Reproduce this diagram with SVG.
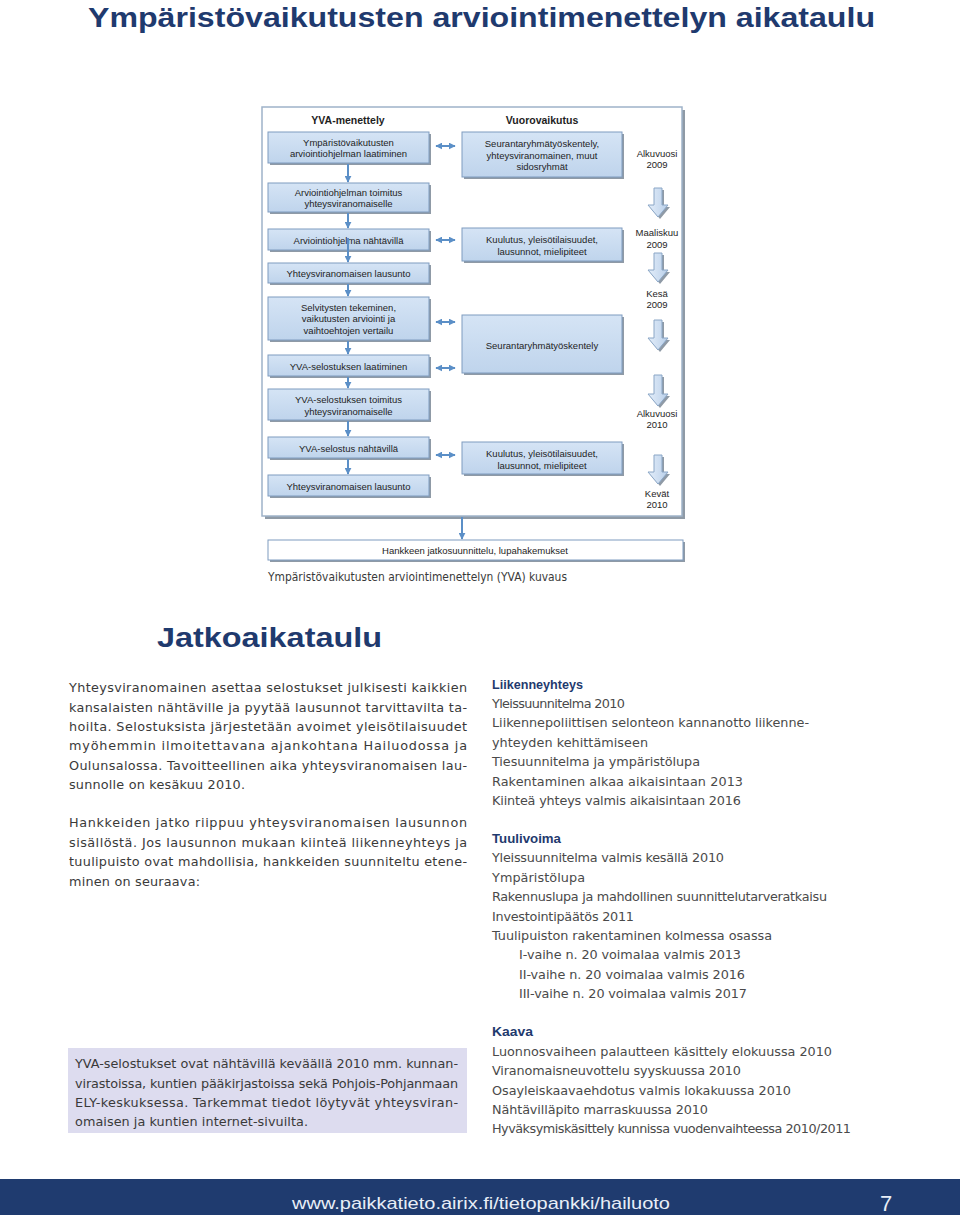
<svg xmlns="http://www.w3.org/2000/svg" width="960" height="1215" viewBox="0 0 960 1215">
<defs>
<linearGradient id="g" x1="0" y1="0" x2="0" y2="1"><stop offset="0" stop-color="#d5e4f5"/><stop offset="1" stop-color="#bfd4ec"/></linearGradient>
<linearGradient id="ga" x1="0" y1="0" x2="1" y2="0"><stop offset="0" stop-color="#e4eefa"/><stop offset="1" stop-color="#b9cfe9"/></linearGradient>
<marker id="ah" viewBox="0 0 10 10" refX="9" refY="5" markerWidth="7" markerHeight="7" markerUnits="userSpaceOnUse" orient="auto-start-reverse"><path d="M0,0 L10,5 L0,10 z" fill="#5b8fc7"/></marker>
</defs>
<style>
.t{font-family:"Liberation Sans",Arial,sans-serif;font-size:9.5px;fill:#1e1e1e;text-anchor:middle}
.h{font-weight:bold;font-size:10.5px}
.box{fill:url(#g);stroke:#7f9cc0;stroke-width:1}
.wbox{fill:#ffffff;stroke:#7f9cc0;stroke-width:1}
.sh{fill:#8f9aa6}
.conn{stroke:#5b8fc7;stroke-width:2;fill:none}
.barr{fill:url(#ga);stroke:#8aa6c6;stroke-width:1}
.body{font-family:"DejaVu Sans",Verdana,sans-serif;font-size:12.8px;fill:#3a3a3a}
.rb{font-family:"DejaVu Sans",Verdana,sans-serif;font-size:12.8px;fill:#4a4a4a}
.hd{font-family:"Liberation Sans",Arial,sans-serif;font-weight:bold;font-size:12.8px;fill:#1f3a6e}
.title{font-family:"Liberation Sans",Arial,sans-serif;font-weight:bold;fill:#1f3a6e}
</style>
<rect width="960" height="1215" fill="#ffffff"/>

<text class="title" x="88" y="27" font-size="27" textLength="787" lengthAdjust="spacingAndGlyphs">Ympäristövaikutusten arviointimenettelyn aikataulu</text>

<g id="frame">
<rect x="265" y="110" width="420" height="409" class="sh"/>
<rect x="262" y="107" width="420" height="409" fill="#ffffff" stroke="#9fb3c9" stroke-width="1.5"/>
<text class="t h" x="348" y="124">YVA-menettely</text>
<text class="t h" x="542" y="124">Vuorovaikutus</text>
</g>

<g id="b1"><rect x="270" y="134" width="161" height="31" class="sh"/><rect x="268" y="132" width="161" height="31" class="box"/><text class="t" x="348.5" y="146">Ympäristövaikutusten</text><text class="t" x="348.5" y="157">arviointiohjelman laatiminen</text></g>
<g id="b2"><rect x="270" y="185" width="161" height="29" class="sh"/><rect x="268" y="183" width="161" height="29" class="box"/><text class="t" x="348.5" y="195.5">Arviointiohjelman toimitus</text><text class="t" x="348.5" y="206.5">yhteysviranomaiselle</text></g>
<g id="b3"><rect x="270" y="231" width="161" height="21" class="sh"/><rect x="268" y="229" width="161" height="21" class="box"/><text class="t" x="348.5" y="243.5">Arviointiohjelma nähtävillä</text></g>
<g id="b4"><rect x="270" y="265" width="161" height="20" class="sh"/><rect x="268" y="263" width="161" height="20" class="box"/><text class="t" x="348.5" y="276.5">Yhteysviranomaisen lausunto</text></g>
<g id="b5"><rect x="270" y="299" width="161" height="43" class="sh"/><rect x="268" y="297" width="161" height="43" class="box"/><text class="t" x="348.5" y="310.5">Selvitysten tekeminen,</text><text class="t" x="348.5" y="322">vaikutusten arviointi ja</text><text class="t" x="348.5" y="333.5">vaihtoehtojen vertailu</text></g>
<g id="b6"><rect x="270" y="357" width="161" height="21" class="sh"/><rect x="268" y="355" width="161" height="21" class="box"/><text class="t" x="348.5" y="369.5">YVA-selostuksen laatiminen</text></g>
<g id="b7"><rect x="270" y="391" width="161" height="31" class="sh"/><rect x="268" y="389" width="161" height="31" class="box"/><text class="t" x="348.5" y="402.5">YVA-selostuksen toimitus</text><text class="t" x="348.5" y="414.5">yhteysviranomaiselle</text></g>
<g id="b8"><rect x="270" y="439" width="161" height="21" class="sh"/><rect x="268" y="437" width="161" height="21" class="box"/><text class="t" x="348.5" y="451.5">YVA-selostus nähtävillä</text></g>
<g id="b9"><rect x="270" y="477" width="161" height="21" class="sh"/><rect x="268" y="475" width="161" height="21" class="box"/><text class="t" x="348.5" y="489.5">Yhteysviranomaisen lausunto</text></g>

<g id="r1"><rect x="464" y="134" width="160" height="45" class="sh"/><rect x="462" y="132" width="160" height="45" class="box"/><text class="t" x="542" y="147">Seurantaryhmätyöskentely,</text><text class="t" x="542" y="158.5">yhteysviranomainen, muut</text><text class="t" x="542" y="170">sidosryhmät</text></g>
<g id="r2"><rect x="464" y="230" width="160" height="33" class="sh"/><rect x="462" y="228" width="160" height="33" class="box"/><text class="t" x="542" y="242.5">Kuulutus, yleisötilaisuudet,</text><text class="t" x="542" y="254.5">lausunnot, mielipiteet</text></g>
<g id="r3"><rect x="464" y="317" width="160" height="58" class="sh"/><rect x="462" y="315" width="160" height="58" class="box"/><text class="t" x="542" y="348.5">Seurantaryhmätyöskentely</text></g>
<g id="r4"><rect x="464" y="444" width="160" height="32" class="sh"/><rect x="462" y="442" width="160" height="32" class="box"/><text class="t" x="542" y="456.5">Kuulutus, yleisötilaisuudet,</text><text class="t" x="542" y="468.5">lausunnot, mielipiteet</text></g>

<g id="times">
<text class="t" x="657" y="156.5">Alkuvuosi</text><text class="t" x="657" y="167.5">2009</text>
<text class="t" x="657" y="235.5">Maaliskuu</text><text class="t" x="657" y="247.5">2009</text>
<text class="t" x="657" y="296.5">Kesä</text><text class="t" x="657" y="307.5">2009</text>
<text class="t" x="657" y="416.5">Alkuvuosi</text><text class="t" x="657" y="427.5">2010</text>
<text class="t" x="657" y="496.5">Kevät</text><text class="t" x="657" y="507.5">2010</text>
</g>

<g id="timearrows">
<path class="sh" d="M656,190 L664,190 L664,207 L670,207 L660,219 L650,207 L656,207 Z"/>
<path class="barr" d="M654,188 L662,188 L662,205 L668,205 L658,217 L648,205 L654,205 Z"/>
<path class="sh" d="M656,255 L664,255 L664,272 L670,272 L660,284 L650,272 L656,272 Z"/>
<path class="barr" d="M654,253 L662,253 L662,270 L668,270 L658,282 L648,270 L654,270 Z"/>
<path class="sh" d="M656,322 L664,322 L664,340 L670,340 L660,352 L650,340 L656,340 Z"/>
<path class="barr" d="M654,320 L662,320 L662,338 L668,338 L658,350 L648,338 L654,338 Z"/>
<path class="sh" d="M656,377 L664,377 L664,396 L670,396 L660,408 L650,396 L656,396 Z"/>
<path class="barr" d="M654,375 L662,375 L662,394 L668,394 L658,406 L648,394 L654,394 Z"/>
<path class="sh" d="M656,457 L664,457 L664,474 L670,474 L660,486 L650,474 L656,474 Z"/>
<path class="barr" d="M654,455 L662,455 L662,472 L668,472 L658,484 L648,472 L654,472 Z"/>
</g>

<g id="final"><rect x="270" y="542" width="415" height="20" class="sh"/><rect x="268" y="540" width="415" height="20" class="wbox"/><text class="t" x="475" y="553.5">Hankkeen jatkosuunnittelu, lupahakemukset</text></g>

<g id="connectors">
<line class="conn" x1="348" y1="164" x2="348" y2="182" marker-end="url(#ah)"/>
<line class="conn" x1="348" y1="213" x2="348" y2="228" marker-end="url(#ah)"/>
<line class="conn" x1="348" y1="238" x2="348" y2="262" marker-end="url(#ah)"/>
<line class="conn" x1="348" y1="284" x2="348" y2="296" marker-end="url(#ah)"/>
<line class="conn" x1="348" y1="341" x2="348" y2="354" marker-end="url(#ah)"/>
<line class="conn" x1="348" y1="377" x2="348" y2="388" marker-end="url(#ah)"/>
<line class="conn" x1="348" y1="421" x2="348" y2="436" marker-end="url(#ah)"/>
<line class="conn" x1="348" y1="459" x2="348" y2="474" marker-end="url(#ah)"/>
<line class="conn" x1="436" y1="146" x2="455" y2="146" marker-start="url(#ah)" marker-end="url(#ah)"/>
<line class="conn" x1="436" y1="240" x2="455" y2="240" marker-start="url(#ah)" marker-end="url(#ah)"/>
<line class="conn" x1="436" y1="322" x2="455" y2="322" marker-start="url(#ah)" marker-end="url(#ah)"/>
<line class="conn" x1="436" y1="368" x2="455" y2="368" marker-start="url(#ah)" marker-end="url(#ah)"/>
<line class="conn" x1="436" y1="455" x2="455" y2="455" marker-start="url(#ah)" marker-end="url(#ah)"/>
<line class="conn" x1="462" y1="517" x2="462" y2="539" marker-end="url(#ah)"/>
</g>

<text class="body" x="268" y="581" font-size="12" textLength="299" lengthAdjust="spacingAndGlyphs">Ympäristövaikutusten arviointimenettelyn (YVA) kuvaus</text>

<text class="title" x="157" y="647" font-size="28" textLength="225" lengthAdjust="spacingAndGlyphs" font-family="DejaVu Sans">Jatkoaikataulu</text>

<g id="leftpara">
<text class="body" x="69" y="692" textLength="398" lengthAdjust="spacing">Yhteysviranomainen asettaa selostukset julkisesti kaikkien</text>
<text class="body" x="69" y="711.5" textLength="398" lengthAdjust="spacing">kansalaisten nähtäville ja pyytää lausunnot tarvittavilta ta-</text>
<text class="body" x="69" y="731" textLength="398" lengthAdjust="spacing">hoilta. Selostuksista järjestetään avoimet yleisötilaisuudet</text>
<text class="body" x="69" y="750" textLength="398" lengthAdjust="spacing">myöhemmin ilmoitettavana ajankohtana Hailuodossa ja</text>
<text class="body" x="69" y="769.5" textLength="398" lengthAdjust="spacing">Oulunsalossa. Tavoitteellinen aika yhteysviranomaisen lau-</text>
<text class="body" x="69" y="789" textLength="176" lengthAdjust="spacing">sunnolle on kesäkuu 2010.</text>
<text class="body" x="69" y="827" textLength="398" lengthAdjust="spacing">Hankkeiden jatko riippuu yhteysviranomaisen lausunnon</text>
<text class="body" x="69" y="846.5" textLength="398" lengthAdjust="spacing">sisällöstä. Jos lausunnon mukaan kiinteä liikenneyhteys ja</text>
<text class="body" x="69" y="866" textLength="398" lengthAdjust="spacing">tuulipuisto ovat mahdollisia, hankkeiden suunniteltu etene-</text>
<text class="body" x="69" y="885.5" textLength="131" lengthAdjust="spacing">minen on seuraava:</text>
</g>

<g id="notebox">
<rect x="68" y="1048" width="399" height="85" fill="#dddcef"/>
<text class="body" x="75" y="1068" textLength="383" lengthAdjust="spacing">YVA-selostukset ovat nähtävillä keväällä 2010 mm. kunnan-</text>
<text class="body" x="75" y="1088" textLength="383" lengthAdjust="spacing">virastoissa, kuntien pääkirjastoissa sekä Pohjois-Pohjanmaan</text>
<text class="body" x="75" y="1107" textLength="383" lengthAdjust="spacing">ELY-keskuksessa. Tarkemmat tiedot löytyvät yhteysviran-</text>
<text class="body" x="75" y="1126" textLength="233" lengthAdjust="spacing">omaisen ja kuntien internet-sivuilta.</text>
</g>

<g id="rightcol">
<text class="hd" x="492" y="688.5" textLength="91" lengthAdjust="spacingAndGlyphs">Liikenneyhteys</text>
<text class="rb" x="492" y="707.9" textLength="133" lengthAdjust="spacing">Yleissuunnitelma 2010</text>
<text class="rb" x="492" y="727.3" textLength="317" lengthAdjust="spacing">Liikennepoliittisen selonteon kannanotto liikenne-</text>
<text class="rb" x="492" y="746.7" textLength="156" lengthAdjust="spacing">yhteyden kehittämiseen</text>
<text class="rb" x="492" y="766.1" textLength="208" lengthAdjust="spacing">Tiesuunnitelma ja ympäristölupa</text>
<text class="rb" x="492" y="785.5" textLength="251" lengthAdjust="spacing">Rakentaminen alkaa aikaisintaan 2013</text>
<text class="rb" x="492" y="804.9" textLength="249" lengthAdjust="spacing">Kiinteä yhteys valmis aikaisintaan 2016</text>
<text class="hd" x="492" y="843" textLength="69" lengthAdjust="spacingAndGlyphs">Tuulivoima</text>
<text class="rb" x="492" y="862.4" textLength="232" lengthAdjust="spacing">Yleissuunnitelma valmis kesällä 2010</text>
<text class="rb" x="492" y="881.8" textLength="93" lengthAdjust="spacing">Ympäristölupa</text>
<text class="rb" x="492" y="901.2" textLength="335" lengthAdjust="spacing">Rakennuslupa ja mahdollinen suunnittelutarveratkaisu</text>
<text class="rb" x="492" y="920.6" textLength="142" lengthAdjust="spacing">Investointipäätös 2011</text>
<text class="rb" x="492" y="940" textLength="280" lengthAdjust="spacing">Tuulipuiston rakentaminen kolmessa osassa</text>
<text class="rb" x="519" y="959.4" textLength="222" lengthAdjust="spacing">I-vaihe n. 20 voimalaa valmis 2013</text>
<text class="rb" x="519" y="978.8" textLength="226" lengthAdjust="spacing">II-vaihe n. 20 voimalaa valmis 2016</text>
<text class="rb" x="519" y="998.2" textLength="228" lengthAdjust="spacing">III-vaihe n. 20 voimalaa valmis 2017</text>
<text class="hd" x="492" y="1036" textLength="41" lengthAdjust="spacingAndGlyphs">Kaava</text>
<text class="rb" x="492" y="1055.5" textLength="340" lengthAdjust="spacing">Luonnosvaiheen palautteen käsittely elokuussa 2010</text>
<text class="rb" x="492" y="1075" textLength="249" lengthAdjust="spacing">Viranomaisneuvottelu syyskuussa 2010</text>
<text class="rb" x="492" y="1094.5" textLength="299" lengthAdjust="spacing">Osayleiskaavaehdotus valmis lokakuussa 2010</text>
<text class="rb" x="492" y="1114" textLength="216" lengthAdjust="spacing">Nähtävilläpito marraskuussa 2010</text>
<text class="rb" x="492" y="1133" textLength="359" lengthAdjust="spacing">Hyväksymiskäsittely kunnissa vuodenvaihteessa 2010/2011</text>
</g>

<g id="footer">
<rect x="0" y="1179" width="960" height="36" fill="#1f3b6f"/>
<text x="292" y="1209" font-family="Liberation Sans,Arial,sans-serif" font-size="17" fill="#e8eef7" textLength="378" lengthAdjust="spacingAndGlyphs">www.paikkatieto.airix.fi/tietopankki/hailuoto</text>
<text x="880" y="1211" font-family="Liberation Sans,Arial,sans-serif" font-size="22" fill="#e8eef7">7</text>
</g>
</svg>
